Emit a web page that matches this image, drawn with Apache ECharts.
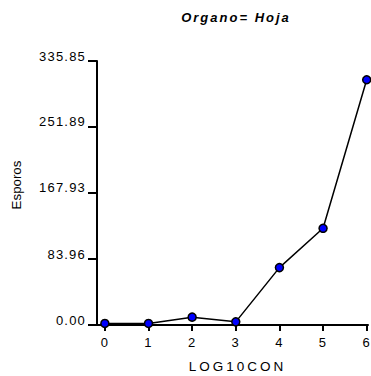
<!DOCTYPE html>
<html>
<head>
<meta charset="utf-8">
<script src="https://cdn.jsdelivr.net/npm/echarts@6/dist/echarts.min.js"></script>
<style>
  html, body { margin: 0; padding: 0; background: #fff; }
  #chart { width: 371px; height: 376px; }
  /* spaced lettering: tick labels, x axis name, title */
  #chart svg text[style*="13px"] { letter-spacing: 1.2px; }
  #chart svg text[style*="13.5px"] { letter-spacing: 3px; }
  #chart svg text[style*="italic"] { letter-spacing: 2px; }
</style>
</head>
<body>
<div id="chart"></div>
<script>
// LOG10 concentration vs. spore count, organ = leaf
const concentrations = [0, 1, 2, 3, 4, 5, 6];
const spores = [2, 2, 10, 4, 73, 123, 312];
const xTicks = [0, 1, 2, 3, 4, 5, 6];
const yTicks = [0, 83.96, 167.93, 251.89, 335.85];

const chart = echarts.init(document.getElementById('chart'), null, { renderer: 'svg' });

const font = '"Liberation Sans", Arial, sans-serif';

chart.setOption({
  animation: false,
  backgroundColor: '#fff',
  title: {
    text: 'Organo= Hoja',
    left: 231,
    top: 6,
    textAlign: 'center',
    textStyle: { fontFamily: font, fontSize: 13, fontStyle: 'italic', fontWeight: 'bold', color: '#000' }
  },
  grid: { left: 97, right: 3, top: 61, bottom: 51, outerBoundsMode: 'none' },
  xAxis: {
    type: 'value',
    min: -0.18,
    max: 6.03,
    name: 'LOG10CON',
    nameLocation: 'middle',
    nameGap: 34,
    nameTextStyle: { fontFamily: font, fontSize: 13.5, color: '#000', padding: [0, 0, 0, 10] },
    axisLine: { show: true, onZero: false, lineStyle: { color: '#000', width: 2 } },
    axisTick: { show: true, customValues: xTicks, length: 6, lineStyle: { color: '#000', width: 2 } },
    axisLabel: { customValues: xTicks, margin: 11, fontFamily: font, fontSize: 13, color: '#000' },
    splitLine: { show: false }
  },
  yAxis: {
    type: 'value',
    min: 0,
    max: 335.85,
    name: 'Esporos',
    nameLocation: 'middle',
    nameGap: 74,
    nameRotate: 90,
    nameTextStyle: { fontFamily: font, fontSize: 13.3, color: '#000', padding: [0, 0, 0, 16] },
    axisLine: { show: true, onZero: false, lineStyle: { color: '#000', width: 2 } },
    axisTick: { show: true, customValues: yTicks, length: 9, lineStyle: { color: '#000', width: 2 } },
    axisLabel: {
      customValues: yTicks,
      margin: 11,
      verticalAlign: 'bottom',
      lineHeight: 10,
      fontFamily: font,
      fontSize: 13,
      color: '#000',
      formatter: v => v.toFixed(2)
    },
    splitLine: { show: false }
  },
  series: [{
    type: 'line',
    data: concentrations.map((x, i) => [x, spores[i]]),
    symbol: 'circle',
    symbolSize: 8,
    lineStyle: { color: '#000', width: 1.5 },
    itemStyle: { color: '#0000ff', borderColor: '#000', borderWidth: 1.5 }
  }]
});
</script>
</body>
</html>
